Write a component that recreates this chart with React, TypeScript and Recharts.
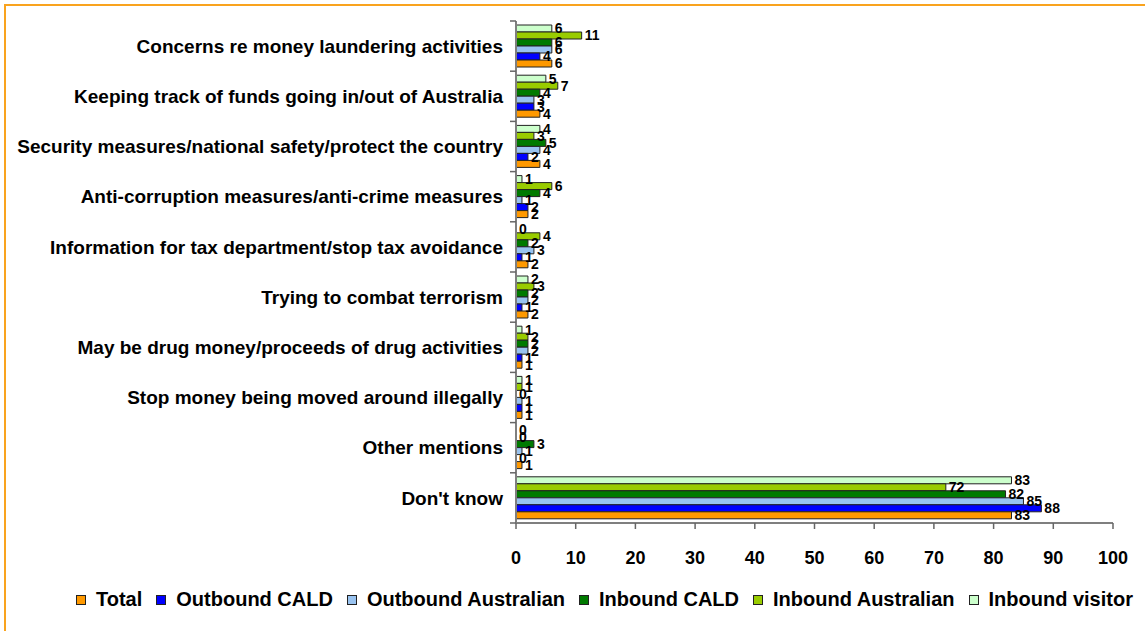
import React from "react";
import { BarChart, Bar, XAxis, YAxis, LabelList } from "recharts";

const categories = [
  "Concerns re money laundering activities",
  "Keeping track of funds going in/out of Australia",
  "Security measures/national safety/protect the country",
  "Anti-corruption measures/anti-crime measures",
  "Information for tax department/stop tax avoidance",
  "Trying to combat terrorism",
  "May be drug money/proceeds of drug activities",
  "Stop money being moved around illegally",
  "Other mentions",
  "Don't know",
];

const total = [6, 4, 4, 2, 2, 2, 1, 1, 1, 83];
const outboundCald = [4, 3, 2, 2, 1, 1, 1, 1, 0, 88];
const outboundAustralian = [6, 3, 4, 1, 3, 2, 2, 1, 1, 85];
const inboundCald = [6, 4, 5, 4, 2, 2, 2, 0, 3, 82];
const inboundAustralian = [11, 7, 3, 6, 4, 3, 2, 1, 0, 72];
const inboundVisitor = [6, 5, 4, 1, 0, 2, 1, 1, 0, 83];

const xTicks = [0, 10, 20, 30, 40, 50, 60, 70, 80, 90, 100];

// legend order (bottom bar first), bars are drawn top-down so reversed below
const series = [
  { key: "total", name: "Total", color: "#FF9900", values: total },
  { key: "outCald", name: "Outbound CALD", color: "#0000FF", values: outboundCald },
  { key: "outAus", name: "Outbound Australian", color: "#99C3F0", values: outboundAustralian },
  { key: "inCald", name: "Inbound CALD", color: "#007A00", values: inboundCald },
  { key: "inAus", name: "Inbound Australian", color: "#99CC00", values: inboundAustralian },
  { key: "visitor", name: "Inbound visitor", color: "#CCFFCC", values: inboundVisitor },
];

const data = categories.map((name, i) => {
  const row: Record<string, string | number> = { name };
  series.forEach((s) => (row[s.key] = s.values[i]));
  return row;
});

const FONT = "'Liberation Sans', Arial, sans-serif";
const W = 1145;
const H = 631;
const MARGIN = { top: 21, right: 32, left: 0, bottom: 68 };
const X_AXIS_H = 40;
const BAND = (H - MARGIN.top - MARGIN.bottom - X_AXIS_H) / categories.length;

function CategoryTick(props: any) {
  const { x, y, payload, index } = props;
  const axisX = x + 13;
  return (
    <g>
      <line x1={axisX - 6} x2={axisX} y1={y - BAND / 2} y2={y - BAND / 2} stroke="#666" strokeWidth={1.5} />
      {index === categories.length - 1 && (
        <line x1={axisX - 6} x2={axisX} y1={y + BAND / 2} y2={y + BAND / 2} stroke="#666" strokeWidth={1.5} />
      )}
      <text
        x={x}
        y={y}
        dy="0.35em"
        textAnchor="end"
        fontFamily={FONT}
        fontWeight="bold"
        fontSize={19}
        fill="#000"
      >
        {payload.value}
      </text>
    </g>
  );
}

export default function App() {
  return (
    <div style={{ position: "absolute", left: 0, top: 0, width: W, height: H, overflow: "hidden", background: "#fff" }}>
      <div
        style={{
          position: "absolute",
          left: 4,
          top: 4,
          width: 1300,
          height: 800,
          border: "2px solid #F9A31E",
        }}
      />
      <div style={{ position: "absolute", left: 0, top: 0 }}>
        <BarChart
          width={W}
          height={H}
          data={data}
          layout="vertical"
          margin={MARGIN}
          barCategoryGap={4}
          barGap={0}
        >
          <XAxis
            type="number"
            domain={[0, 100]}
            ticks={xTicks}
            height={X_AXIS_H}
            tickSize={6}
            tickMargin={22}
            stroke="#7f7f7f"
            axisLine={{ stroke: "#7f7f7f", strokeWidth: 2 }}
            tickLine={{ stroke: "#666", strokeWidth: 1.5 }}
            tick={{ fontFamily: FONT, fontWeight: "bold", fontSize: 18, fill: "#000" }}
          />
          <YAxis
            type="category"
            dataKey="name"
            width={516}
            tickSize={6}
            tickMargin={7}
            tickLine={false}
            axisLine={{ stroke: "#7f7f7f", strokeWidth: 2 }}
            tick={<CategoryTick />}
            interval={0}
          />
          {[...series].reverse().map((s) => (
            <Bar
              key={s.key}
              dataKey={s.key}
              name={s.name}
              fill={s.color}
              stroke="#222"
              strokeWidth={1}
              minPointSize={0.01}
              isAnimationActive={false}
            >
              <LabelList
                dataKey={s.key}
                position="right"
                offset={3}
                fill="#000"
                fontFamily={FONT}
                fontWeight="bold"
                fontSize={14}
              />
            </Bar>
          ))}
        </BarChart>
      </div>
      <div
        style={{
          position: "absolute",
          left: 76,
          top: 588,
          display: "flex",
          alignItems: "center",
          whiteSpace: "nowrap",
          fontFamily: FONT,
          fontWeight: "bold",
          fontSize: 20,
          color: "#000",
        }}
      >
        {series.map((s) => (
          <div key={s.key} style={{ display: "flex", alignItems: "center", marginRight: 14 }}>
            <span
              style={{
                display: "inline-block",
                width: 8,
                height: 8,
                background: s.color,
                border: "1px solid #222",
                marginRight: 10,
              }}
            />
            <span>{s.name}</span>
          </div>
        ))}
      </div>
    </div>
  );
}
